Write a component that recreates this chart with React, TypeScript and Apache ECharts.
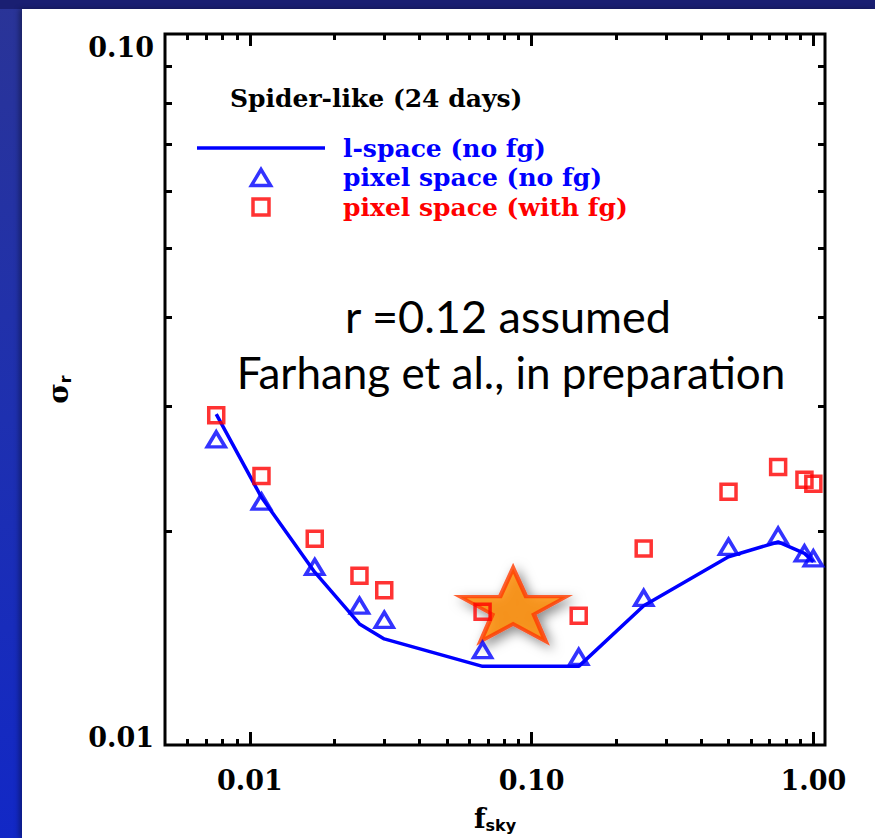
import React, { useEffect, useRef } from "react";
import * as echarts from "echarts";

// ---- data ----
const fSky = [0.0076, 0.011, 0.017, 0.0245, 0.03, 0.067, 0.147, 0.25, 0.5, 0.75, 0.93, 1.0];
const lSpaceNoFg = [0.0292, 0.0223, 0.0175, 0.0148, 0.0141, 0.0129, 0.0129, 0.0157, 0.0184, 0.0193, 0.0186, 0.0181];
const pixelNoFg = [0.0269, 0.022, 0.0178, 0.0157, 0.015, 0.0136, 0.0133, 0.0161, 0.019, 0.0197, 0.0186, 0.0183];
const pixelWithFg = [0.0291, 0.0239, 0.0195, 0.0173, 0.0165, 0.0154, 0.0152, 0.0189, 0.0227, 0.0246, 0.0236, 0.0233];
const starPoint = [0.086, 0.01575];

const seriesNames = ["l-space (no fg)", "pixel space (no fg)", "pixel space (with fg)"];
const titleText = "Spider-like (24 days)";
const noteLines = ["r =0.12 assumed", "Farhang et al., in preparation"];

const xRange = [0.005, 1.1];
const yRange = [0.01, 0.1];
const xMajorTicks = [0.01, 0.1, 1];
const xTickLabels = ["0.01", "0.10", "1.00"];
const yMajorTicks = [0.01, 0.1];
const yTickLabels = ["0.01", "0.10"];
const xMinorTicks = [0.006, 0.007, 0.008, 0.009, 0.02, 0.03, 0.04, 0.05, 0.06, 0.07, 0.08, 0.09, 0.2, 0.3, 0.4, 0.5, 0.6, 0.7, 0.8, 0.9];
const yMinorTicks = [0.02, 0.03, 0.04, 0.05, 0.06, 0.07, 0.08, 0.09];

const SERIF = '"DejaVu Serif", serif';
const SANS = '"DejaVu Sans", sans-serif';
const BLUE = "#0000ff";
const RED = "#ff0000";

const STAR_PATH =
  "path://M50,0 L61.8,35.3 L98.1,35.3 L68.8,57.1 L79.4,90.5 L50,69.1 L20.6,90.5 L31.2,57.1 L1.9,35.3 L38.2,35.3 Z";

function matchTick(v: number, ticks: number[]): number {
  const lv = Math.log10(v);
  for (let i = 0; i < ticks.length; i++) {
    if (Math.abs(lv - Math.log10(ticks[i])) < 1e-6) return i;
  }
  return -1;
}

function tickAxis(position: string, lo: number, hi: number, values: number[], length: number) {
  return {
    type: "value",
    gridIndex: 0,
    position,
    min: Math.log10(lo),
    max: Math.log10(hi),
    axisLine: { show: false, onZero: false },
    axisLabel: { show: false },
    splitLine: { show: false },
    axisPointer: { show: false },
    axisTick: {
      show: true,
      inside: true,
      length,
      lineStyle: { width: 3, color: "#000" },
      customValues: values.map((v) => Math.log10(v)),
    },
  } as any;
}

export default function App() {
  const ref = useRef<HTMLDivElement>(null);

  useEffect(() => {
    if (!ref.current) return;
    const chart = echarts.init(ref.current, undefined, { renderer: "svg" });

    const option: any = {
      animation: false,
      backgroundColor: "transparent",
      grid: {
        left: 165,
        top: 34,
        right: 50,
        bottom: 91,
        show: true,
        borderColor: "#000",
        borderWidth: 3,
        backgroundColor: "transparent",
        containLabel: false,
      },
      title: {
        text: titleText,
        left: 230,
        top: 86,
        padding: 0,
        textStyle: { fontFamily: SERIF, fontWeight: "bold", fontSize: 25, color: "#000" },
      },
      legend: {
        orient: "vertical",
        left: 197,
        top: 135.5,
        itemWidth: 128,
        itemHeight: 16,
        itemGap: 4.5,
        selectedMode: false,
        padding: 0,
        textStyle: { fontFamily: SERIF, fontWeight: "bold", fontSize: 25, padding: [0, 0, 0, 13] },
        data: [
          {
            name: seriesNames[0],
            icon: "path://M0,0H128V3.5H0Z",
            itemStyle: { color: BLUE, borderWidth: 0 },
            textStyle: { color: BLUE },
          },
          {
            name: seriesNames[1],
            icon: "path://M9,0L18,15L0,15Z",
            itemStyle: { color: "rgba(0,0,0,0)", borderColor: BLUE, borderWidth: 3.5 },
            textStyle: { color: BLUE },
          },
          {
            name: seriesNames[2],
            icon: "path://M0,0H15V15H0Z",
            itemStyle: { color: "rgba(0,0,0,0)", borderColor: RED, borderWidth: 3.5 },
            textStyle: { color: RED },
          },
        ],
      },
      xAxis: [
        {
          type: "log",
          logBase: 10,
          gridIndex: 0,
          position: "bottom",
          min: xRange[0],
          max: xRange[1],
          axisLine: { show: false, onZero: false },
          axisTick: { show: false },
          splitLine: { show: false },
          axisLabel: {
            show: true,
            margin: 22,
            fontFamily: SERIF,
            fontWeight: "bold",
            fontSize: 27,
            lineHeight: 27,
            color: "#000",
            formatter: (v: number) => {
              const i = matchTick(v, xMajorTicks);
              return i >= 0 ? xTickLabels[i] : "";
            },
          },
          name: "{f|f}{s|sky}",
          nameLocation: "middle",
          nameGap: 58,
          nameTextStyle: {
            rich: {
              f: { fontFamily: SERIF, fontWeight: "bold", fontSize: 27, lineHeight: 30, color: "#000" },
              s: { fontFamily: SANS, fontWeight: "bold", fontSize: 16, lineHeight: 15, verticalAlign: "bottom", color: "#000" },
            },
          },
        },
        tickAxis("bottom", xRange[0], xRange[1], xMinorTicks, 6),
        tickAxis("bottom", xRange[0], xRange[1], xMajorTicks, 13),
        tickAxis("top", xRange[0], xRange[1], xMinorTicks, 6),
        tickAxis("top", xRange[0], xRange[1], xMajorTicks, 12),
      ],
      yAxis: [
        {
          type: "log",
          logBase: 10,
          gridIndex: 0,
          position: "left",
          min: yRange[0],
          max: yRange[1],
          axisLine: { show: false, onZero: false },
          axisTick: { show: false },
          splitLine: { show: false },
          axisLabel: {
            show: true,
            margin: 11,
            color: "#000",
            formatter: (v: number) => {
              const i = matchTick(v, yMajorTicks);
              if (i < 0) return "";
              return i === 0 ? "{lo|" + yTickLabels[i] + "}" : "{hi|" + yTickLabels[i] + "}";
            },
            rich: {
              lo: { fontFamily: SERIF, fontWeight: "bold", fontSize: 27, lineHeight: 27, padding: [0, 0, 16, 0], color: "#000" },
              hi: { fontFamily: SERIF, fontWeight: "bold", fontSize: 27, lineHeight: 27, padding: [26, 0, 0, 0], color: "#000" },
            },
          },
          name: "{s|σ}{r|r}",
          nameLocation: "middle",
          nameRotate: 90,
          nameGap: 92,
          nameTextStyle: {
            rich: {
              s: { fontFamily: SERIF, fontWeight: "bold", fontSize: 28, lineHeight: 30, color: "#000" },
              r: { fontFamily: SANS, fontWeight: "bold", fontSize: 16, lineHeight: 15, verticalAlign: "bottom", color: "#000" },
            },
          },
        },
        tickAxis("left", yRange[0], yRange[1], yMinorTicks, 7),
        tickAxis("right", yRange[0], yRange[1], yMinorTicks, 7),
      ],
      graphic: [
        {
          type: "text",
          x: 508,
          y: 316,
          z: 1,
          style: {
            text: noteLines[0],
            align: "center",
            verticalAlign: "middle",
            fontFamily: "Lato",
            fontSize: 45,
            fill: "#000",
          },
        },
        {
          type: "text",
          x: 511,
          y: 372,
          z: 1,
          style: {
            text: noteLines[1],
            align: "center",
            verticalAlign: "middle",
            fontFamily: "Lato",
            fontSize: 44,
            fill: "#000",
          },
        },
      ],
      series: [
        {
          name: "star",
          type: "scatter",
          xAxisIndex: 0,
          yAxisIndex: 0,
          z: 1,
          silent: true,
          symbol: STAR_PATH,
          symbolSize: [106, 73],
          symbolKeepAspect: false,
          itemStyle: {
            color: "#ff8c00",
            borderColor: "#ff3c00",
            borderWidth: 4,
            shadowBlur: 12,
            shadowColor: "rgba(0,0,0,0.55)",
            shadowOffsetX: 4,
            shadowOffsetY: 4,
          },
          data: [starPoint],
        },
        {
          name: seriesNames[0],
          type: "line",
          xAxisIndex: 0,
          yAxisIndex: 0,
          z: 2,
          symbol: "none",
          showSymbol: false,
          lineStyle: { color: BLUE, width: 3.5 },
          itemStyle: { color: BLUE },
          data: fSky.map((x, i) => [x, lSpaceNoFg[i]]),
        },
        {
          name: seriesNames[1],
          type: "scatter",
          xAxisIndex: 0,
          yAxisIndex: 0,
          z: 3,
          symbol: "triangle",
          symbolSize: [18, 15],
          itemStyle: { color: "rgba(0,0,0,0)", borderColor: BLUE, borderWidth: 3.5 },
          data: fSky.map((x, i) => [x, pixelNoFg[i]]),
        },
        {
          name: seriesNames[2],
          type: "scatter",
          xAxisIndex: 0,
          yAxisIndex: 0,
          z: 3,
          symbol: "rect",
          symbolSize: 15,
          itemStyle: { color: "rgba(0,0,0,0)", borderColor: RED, borderWidth: 3.5 },
          data: fSky.map((x, i) => [x, pixelWithFg[i]]),
        },
      ],
    };

    chart.setOption(option);
    return () => chart.dispose();
  }, []);

  return (
    <div
      style={{
        position: "fixed",
        left: 0,
        top: 0,
        width: 875,
        height: 838,
        overflow: "hidden",
        background: "linear-gradient(180deg, #2a3497 0%, #1e30b0 50%, #1228c6 100%)",
      }}
    >
      <div style={{ position: "absolute", left: 0, top: 0, width: 875, height: 9, background: "#1a1f72" }} />
      <div
        style={{
          position: "absolute",
          left: 22,
          top: 9,
          right: 0,
          bottom: 0,
          background: "#ffffff",
          boxShadow: "-3px 0 5px rgba(0,0,0,0.35)",
        }}
      />
      <div ref={ref} style={{ position: "absolute", left: 0, top: 0, width: 875, height: 838 }} />
    </div>
  );
}
